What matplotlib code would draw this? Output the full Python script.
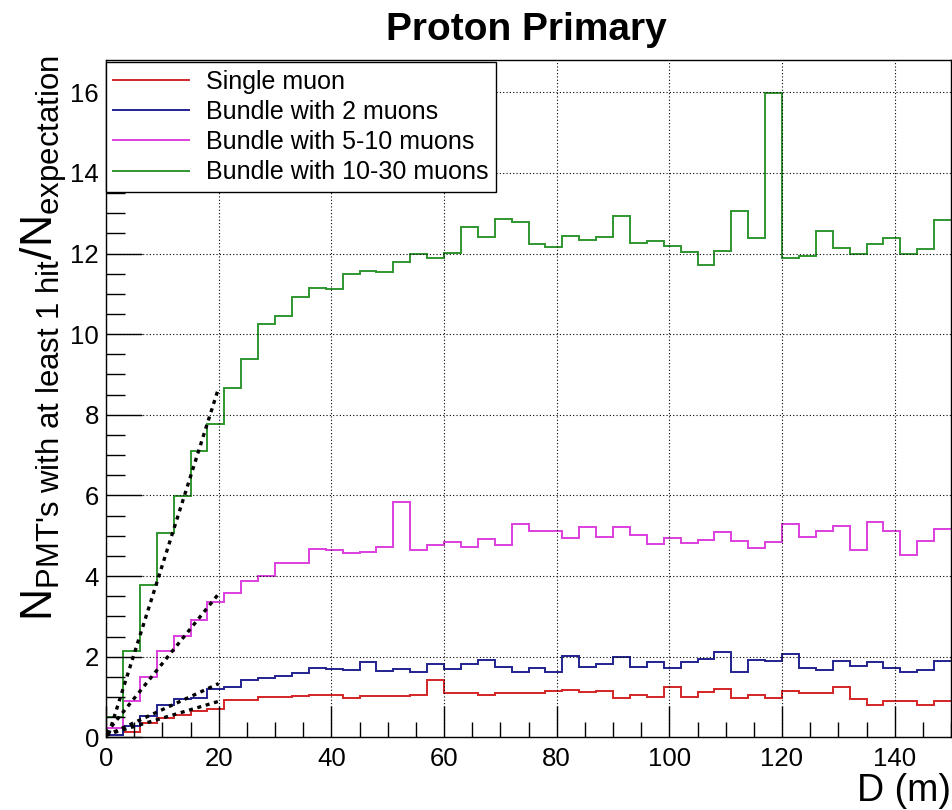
import numpy as np
import matplotlib
matplotlib.use("Agg")
import matplotlib.pyplot as plt

plt.rcParams['font.family'] = ['Liberation Sans', 'DejaVu Sans']
plt.rcParams['mathtext.fontset'] = 'custom'
plt.rcParams['mathtext.rm'] = 'Liberation Sans'
plt.rcParams['mathtext.it'] = 'Liberation Sans:italic'
plt.rcParams['mathtext.bf'] = 'Liberation Sans:bold'

# 50 bins of 3 m from 0 to 150 m
bin_edges = np.arange(0, 151, 3)

single_muon = [0.06, 0.14, 0.35, 0.47, 0.56, 0.66, 0.70, 0.93, 0.93, 1.01,
               1.01, 1.03, 1.05, 1.05, 0.97, 1.02, 1.03, 1.03, 1.06, 1.41,
               1.09, 1.09, 1.06, 1.09, 1.09, 1.09, 1.14, 1.18, 1.12, 1.15,
               0.98, 1.05, 1.01, 1.26, 1.00, 1.12, 1.20, 0.98, 1.06, 0.98,
               1.15, 1.09, 1.09, 1.26, 0.95, 0.80, 0.90, 0.90, 0.80, 0.90]

bundle_2 = [0.06, 0.27, 0.52, 0.80, 0.94, 0.98, 1.20, 1.26, 1.43, 1.47,
            1.53, 1.59, 1.72, 1.69, 1.66, 1.86, 1.65, 1.69, 1.63, 1.81,
            1.69, 1.81, 1.92, 1.74, 1.61, 1.73, 1.61, 2.01, 1.74, 1.81,
            1.98, 1.74, 1.87, 1.72, 1.88, 1.93, 2.11, 1.63, 1.92, 1.89,
            2.06, 1.72, 1.68, 1.89, 1.78, 1.86, 1.72, 1.63, 1.66, 1.89]

bundle_5_10 = [0.22, 0.90, 1.49, 2.14, 2.51, 2.90, 3.36, 3.57, 3.88, 4.00,
               4.33, 4.33, 4.67, 4.64, 4.57, 4.60, 4.71, 5.84, 4.65, 4.76,
               4.85, 4.72, 4.93, 4.78, 5.30, 5.11, 5.11, 4.95, 5.21, 4.98,
               5.21, 5.01, 4.79, 4.95, 4.83, 4.90, 5.08, 4.87, 4.70, 4.85,
               5.28, 4.98, 5.11, 5.24, 4.65, 5.33, 5.11, 4.53, 4.88, 5.16]

bundle_10_30 = [0.51, 2.13, 3.79, 5.06, 5.99, 7.09, 7.77, 8.67, 9.38, 10.26,
                10.46, 10.92, 11.14, 11.12, 11.49, 11.57, 11.53, 11.78, 11.99, 11.89,
                12.01, 12.65, 12.40, 12.85, 12.79, 12.24, 12.17, 12.43, 12.34, 12.40,
                12.92, 12.26, 12.32, 12.18, 12.04, 11.71, 12.06, 13.05, 12.38, 15.99,
                11.88, 11.95, 12.57, 12.14, 11.98, 12.24, 12.39, 11.98, 12.12, 12.84]

labels = ['Single muon', 'Bundle with 2 muons', 'Bundle with 5-10 muons',
          'Bundle with 10-30 muons']
colors = ['#d42525', '#23238f', '#dd3fdd', '#2f962f']

# linear fits over 0-20 m (slope, intercept)
fit_range = [0, 20]
fit_slope = [0.0416, 0.0646, 0.173, 0.44]
fit_intercept = [0.06, 0.04, 0.10, -0.13]

fig = plt.figure(figsize=(9.53, 8.10), dpi=100)
ax = fig.add_axes([106 / 953, 1 - 737.3 / 810, 845 / 953, 677.3 / 810])

series = [single_muon, bundle_2, bundle_5_10, bundle_10_30]
for vals, col, lab in zip(series, colors, labels):
    ax.stairs(vals, bin_edges, baseline=None, color=col, linewidth=1.4, label=lab)

xf = np.array(fit_range, dtype=float)
for a, b in zip(fit_slope, fit_intercept):
    ax.plot(xf, a * xf + b, color='black', linewidth=2.4, linestyle=(0, (1.2, 1.4)))

ax.set_xlim(0, 150)
ax.set_ylim(0, 16.8)

ax.set_xticks(np.arange(0, 141, 20))
ax.set_xticks(np.arange(0, 151, 5), minor=True)
ax.set_yticks(np.arange(0, 17, 2))
ax.set_yticks(np.arange(0, 16.8, 0.5), minor=True)
ax.tick_params(axis='both', which='both', direction='in', top=False, right=False,
               labelsize=18.5, width=1.0)
ax.tick_params(axis='x', which='major', length=22, pad=7)
ax.tick_params(axis='x', which='minor', length=11)
ax.tick_params(axis='y', which='major', length=26, pad=5)
ax.tick_params(axis='y', which='minor', length=14)

ax.grid(True, which='major', color='black', linestyle=(0, (1, 2)), linewidth=0.8)
ax.set_axisbelow(False)
for sp in ax.spines.values():
    sp.set_linewidth(1.0)

leg = ax.legend(loc='upper left', bbox_to_anchor=(0.0, 0.997), borderaxespad=0,
                fontsize=18, frameon=True, fancybox=False, edgecolor='black',
                framealpha=1, handlelength=3.0, handletextpad=0.7,
                labelspacing=0.25, borderpad=0.3)
leg.get_frame().set_linewidth(1.0)
for line in leg.get_lines():
    line.set_linewidth(1.4)

fig.text(526 / 953, 1 - 40 / 810, 'Proton Primary', ha='center', va='baseline',
         fontsize=28, fontweight='bold')

fig.text(951 / 953, 1 - 801 / 810, 'D (m)', ha='right', va='baseline', fontsize=27)

fig.text(44 / 953, 1 - 55 / 810,
         r"$\mathrm{N}_{\text{PMT's with at least 1 hit}}/\mathrm{N}_{\text{expectation}}$",
         rotation=90, ha='center', va='top', fontsize=32)

fig.savefig('out.png', dpi=100)
